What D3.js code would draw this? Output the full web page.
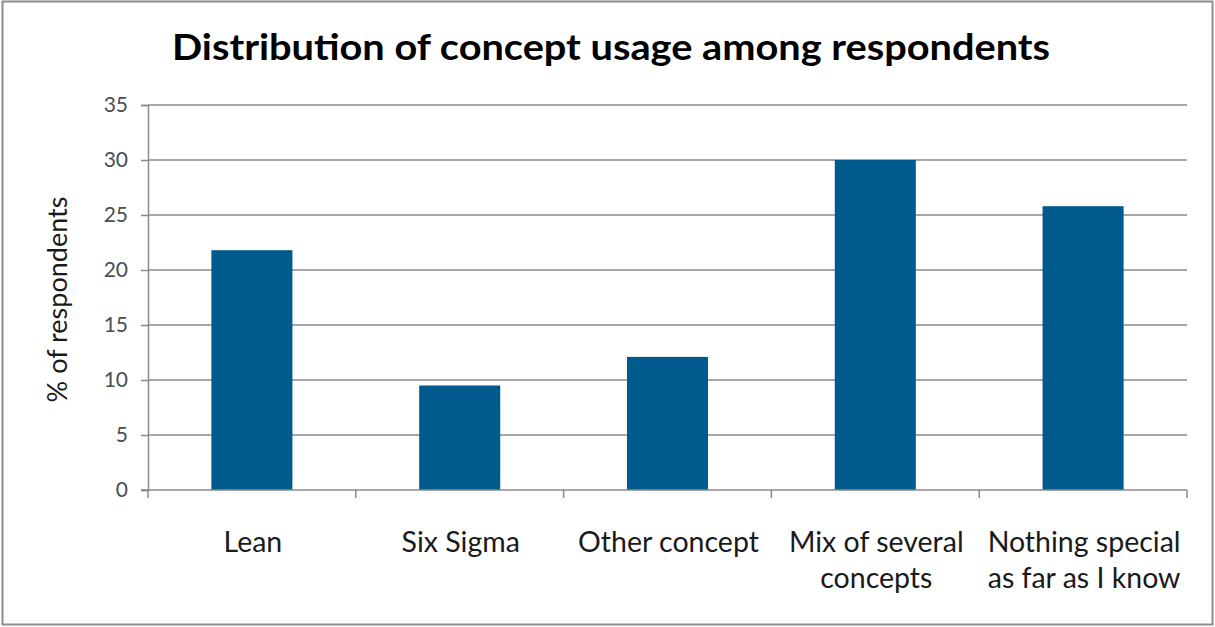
<!DOCTYPE html>
<html>
<head>
<meta charset="utf-8">
<script src="https://cdn.jsdelivr.net/npm/d3@7"></script>
<style>
  html, body { margin: 0; padding: 0; background: #fff; }
  svg { display: block; font-family: Lato, "Open Sans", sans-serif; }
</style>
</head>
<body>
<svg id="chart" width="1215" height="627"></svg>
<script>
// Share of respondents by improvement concept in use
const categories = ["Lean", "Six Sigma", "Other concept", "Mix of several concepts", "Nothing special as far as I know"];
const categoryLines = [["Lean"], ["Six Sigma"], ["Other concept"], ["Mix of several", "concepts"], ["Nothing special", "as far as I know"]];
const percentages = [21.8, 9.5, 12.1, 30, 25.8];
const yTicks = [0, 5, 10, 15, 20, 25, 30, 35];

const svg = d3.select("#chart");
const W = 1215, H = 627;
const margin = { top: 105, right: 28, bottom: 137, left: 148 };
const innerW = W - margin.left - margin.right;
const innerH = H - margin.top - margin.bottom;

// Outer chart frame
svg.append("rect")
  .attr("x", 2.5).attr("y", 1.5)
  .attr("width", W - 5).attr("height", H - 4)
  .attr("fill", "#fff").attr("stroke", "#8c8c8c").attr("stroke-width", 2);

svg.append("text")
  .attr("x", 611).attr("y", 60)
  .attr("text-anchor", "middle")
  .attr("font-size", 36).attr("font-weight", "bold")
  .attr("textLength", 878).attr("lengthAdjust", "spacingAndGlyphs")
  .attr("fill", "#000")
  .text("Distribution of concept usage among respondents");

const g = svg.append("g").attr("transform", `translate(${margin.left},${margin.top})`);

const x = d3.scaleBand().domain(categories).range([0, innerW]).paddingInner(0.61).paddingOuter(0.305);
const y = d3.scaleLinear().domain([0, 35]).range([innerH, 0]);

// Horizontal gridlines
g.append("g").selectAll("line")
  .data(yTicks.filter(d => d > 0))
  .join("line")
  .attr("x1", 0).attr("x2", innerW)
  .attr("y1", d => y(d)).attr("y2", d => y(d))
  .attr("stroke", "#8a8a8a").attr("stroke-width", 1.5);

// Y axis
const yAxis = g.append("g")
  .call(d3.axisLeft(y).tickValues(yTicks).tickSize(7).tickPadding(13));
yAxis.select(".domain").attr("stroke", "#8a8a8a").attr("stroke-width", 1.5);
yAxis.selectAll(".tick line").attr("stroke", "#8a8a8a").attr("stroke-width", 1.5);
yAxis.selectAll(".tick text")
  .attr("font-size", 21).attr("fill", "#4d4d4d").attr("font-family", "Lato, sans-serif");

// Bars
g.append("g").selectAll("rect")
  .data(percentages)
  .join("rect")
  .attr("x", (d, i) => x(categories[i]))
  .attr("y", d => y(d))
  .attr("width", x.bandwidth())
  .attr("height", d => innerH - y(d))
  .attr("fill", "#015a8e");

// X axis with tick marks at band boundaries
const step = x.step();
const xAxisG = g.append("g").attr("transform", `translate(0,${innerH})`);
xAxisG.append("line").attr("x1", -7).attr("x2", innerW)
  .attr("stroke", "#8a8a8a").attr("stroke-width", 1.5);
xAxisG.selectAll("line.tick")
  .data(d3.range(categories.length + 1))
  .join("line")
  .attr("class", "tick")
  .attr("x1", i => i * step).attr("x2", i => i * step)
  .attr("y1", 0).attr("y2", 8)
  .attr("stroke", "#8a8a8a").attr("stroke-width", 1.5);

// Category labels
const labels = xAxisG.selectAll("text.cat")
  .data(categories)
  .join("text")
  .attr("class", "cat")
  .attr("text-anchor", "middle")
  .attr("font-size", 28.5)
  .attr("fill", "#1a1a1a")
  .attr("transform", d => `translate(${x(d) + x.bandwidth() / 2 + 1},62)`);
labels.selectAll("tspan")
  .data((d, i) => categoryLines[i])
  .join("tspan")
  .attr("x", 0)
  .attr("dy", (d, j) => j === 0 ? 0 : 36)
  .text(d => d);

// Y axis title
svg.append("text")
  .attr("transform", `translate(67,${margin.top + innerH / 2 + 2}) rotate(-90)`)
  .attr("text-anchor", "middle")
  .attr("font-size", 27)
  .attr("fill", "#1a1a1a")
  .text("% of respondents");
</script>
</body>
</html>
